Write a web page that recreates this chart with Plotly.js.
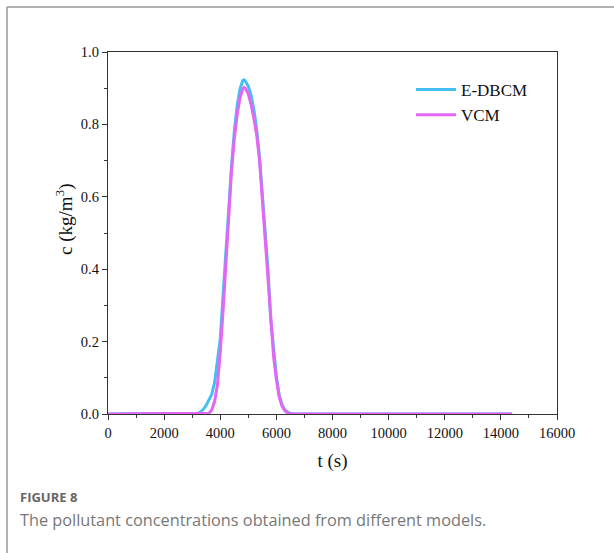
<!DOCTYPE html>
<html>
<head>
<meta charset="utf-8">
<script src="https://cdn.plot.ly/plotly-3.0.1.min.js"></script>
<style>
html,body{margin:0;padding:0;background:#fff;}
#chart{width:614px;height:553px;}
</style>
</head>
<body>
<div id="chart"></div>
<script>
// E-DBCM series
const tBlue = [0, 3000, 3100, 3200, 3300, 3400, 3500, 3600, 3700, 3800, 3900, 4000, 4100, 4200, 4300, 4400, 4500, 4600, 4700, 4800, 4850, 4900, 5000, 5100, 5200, 5300, 5400, 5500, 5600, 5700, 5800, 5900, 6000, 6100, 6200, 6300, 6400, 6500, 6600, 14400];
const cBlue = [0, 0, 0.000, 0.002, 0.006, 0.013, 0.024, 0.038, 0.055, 0.088, 0.146, 0.208, 0.327, 0.453, 0.580, 0.683, 0.780, 0.850, 0.897, 0.921, 0.923, 0.919, 0.905, 0.880, 0.840, 0.785, 0.710, 0.605, 0.500, 0.400, 0.260, 0.172, 0.105, 0.052, 0.026, 0.012, 0.005, 0.002, 0.000, 0];
// VCM series
const tMag = [0, 3500, 3600, 3700, 3800, 3900, 4000, 4100, 4200, 4300, 4400, 4500, 4600, 4700, 4800, 4850, 4900, 5000, 5100, 5200, 5300, 5400, 5500, 5600, 5700, 5800, 5900, 6000, 6100, 6200, 6300, 6400, 6500, 14400];
const cMag = [0, 0, 0.002, 0.012, 0.035, 0.080, 0.170, 0.285, 0.420, 0.555, 0.670, 0.760, 0.825, 0.872, 0.898, 0.902, 0.899, 0.884, 0.855, 0.815, 0.770, 0.700, 0.595, 0.490, 0.390, 0.265, 0.160, 0.095, 0.048, 0.022, 0.009, 0.003, 0.000, 0];
const seriesNames = ["E-DBCM", "VCM"];
const xTicks = [0, 2000, 4000, 6000, 8000, 10000, 12000, 14000, 16000];
const yTicks = [0.0, 0.2, 0.4, 0.6, 0.8, 1.0];

const serif = "Liberation Serif, Times New Roman, serif";
const traces = [
  {x: tBlue, y: cBlue, name: seriesNames[0], mode: "lines", line: {color: "#45bff2", width: 3}, cliponaxis: false},
  {x: tMag, y: cMag, name: seriesNames[1], mode: "lines", line: {color: "#e466f4", width: 3}, cliponaxis: false}
];
const L = 108, R = 557, T = 52, B = 414;
const pw = R - L, ph = B - T;
const px = v => (v - L) / pw;
const py = v => (B - v) / ph;
const layout = {
  width: 614, height: 553,
  margin: {l: L, r: 614 - R, t: T, b: 553 - B},
  paper_bgcolor: "#fff", plot_bgcolor: "#fff",
  showlegend: true,
  legend: {x: px(411), y: py(72), xanchor: "left", yanchor: "top", bgcolor: "rgba(0,0,0,0)",
           font: {family: serif, size: 17, color: "#111"}, itemwidth: 40, tracegroupgap: 0},
  xaxis: {
    range: [0, 16000], tickvals: xTicks, ticktext: xTicks.map(String),
    showline: true, mirror: true, linecolor: "#333", linewidth: 1.2,
    ticks: "outside", ticklen: 5, tickcolor: "#333", tickwidth: 1,
    minor: {ticks: "outside", ticklen: 3, dtick: 1000, tickcolor: "#333"},
    showgrid: false, zeroline: false,
    tickfont: {family: serif, size: 14.5, color: "#111"},
    title: {text: "t (s)", font: {family: serif, size: 19, color: "#111"}, standoff: 14},
    automargin: false
  },
  yaxis: {
    range: [0, 1], tickvals: yTicks, ticktext: yTicks.map(v => v.toFixed(1)),
    showline: true, mirror: true, linecolor: "#333", linewidth: 1.2,
    ticks: "outside", ticklen: 5, tickcolor: "#333", tickwidth: 1,
    minor: {ticks: "outside", ticklen: 3, dtick: 0.1, tickcolor: "#333"},
    showgrid: false, zeroline: false,
    tickfont: {family: serif, size: 14.5, color: "#111"},
    automargin: false
  },
  shapes: [
    {type: "line", xref: "paper", yref: "paper", x0: px(7), x1: px(7), y0: py(7), y1: py(560), line: {color: "#999", width: 1.5}},
    {type: "line", xref: "paper", yref: "paper", x0: px(7), x1: px(620), y0: py(7), y1: py(7), line: {color: "#999", width: 1.5}}
  ],
  annotations: [
    {xref: "paper", yref: "paper", x: px(64), y: py(219), xanchor: "center", yanchor: "middle", showarrow: false, textangle: -90,
     text: "c (kg/m<sup>3</sup>)", font: {family: serif, size: 19, color: "#111"}},
    {xref: "paper", yref: "paper", x: px(18), y: py(497), xanchor: "left", yanchor: "middle", showarrow: false,
     text: "<b>FIGURE 8</b>", font: {family: "Open Sans, sans-serif", size: 13, color: "#666", weight: 600}},
    {xref: "paper", yref: "paper", x: px(18), y: py(520), xanchor: "left", yanchor: "middle", showarrow: false,
     text: "The pollutant concentrations obtained from different models.", font: {family: "Open Sans, sans-serif", size: 16.3, color: "#777"}}
  ]
};
Plotly.newPlot("chart", traces, layout, {displayModeBar: false, staticPlot: true});
</script>
</body>
</html>
